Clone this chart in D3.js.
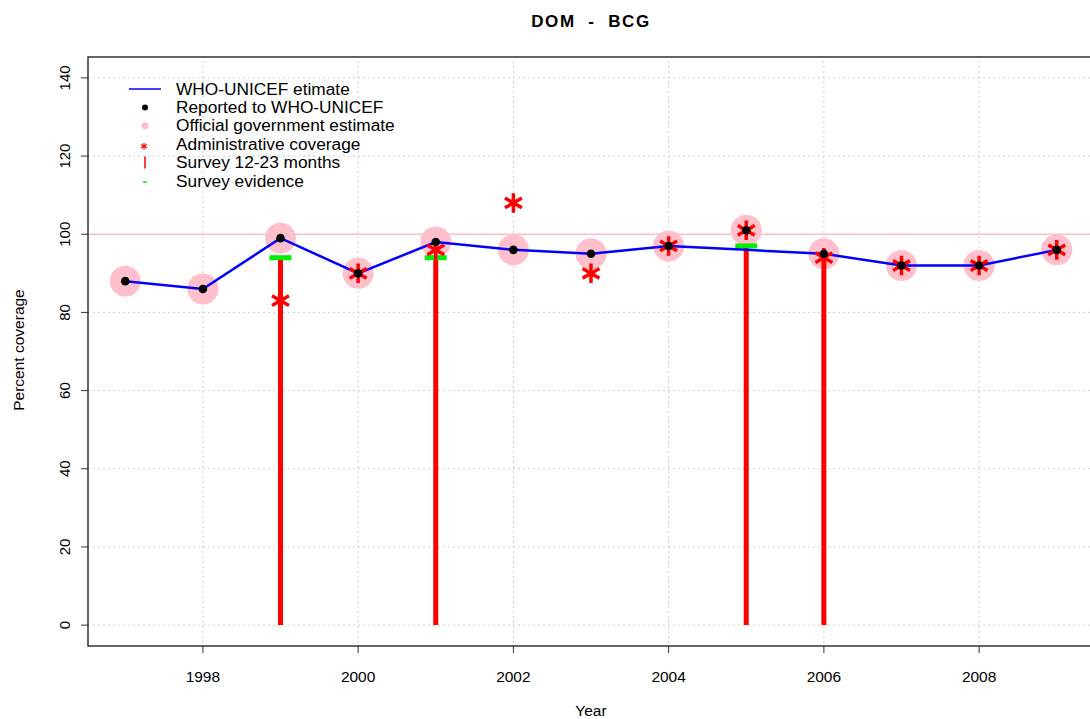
<!DOCTYPE html>
<html><head><meta charset="utf-8">
<script src="https://cdn.jsdelivr.net/npm/d3@7"></script>
<style>body{margin:0;background:#fff}svg{display:block}text{font-family:"Liberation Sans",Arial,sans-serif}</style>
</head><body><svg id="c" width="1090" height="719"></svg>
<script>
const years = [1997,1998,1999,2000,2001,2002,2003,2004,2005,2006,2007,2008,2009];
const wuenic = [88,86,99,90,98,96,95,97,96,95,92,92,96];
const reported = [88,86,99,90,98,96,95,97,101,95,92,92,96];
const official = [88,86,99,90,98,96,95,97,101,95,92,92,96];
const admin = [null,null,83,90,96,108,90,97,101,94,92,92,96];
const surveyYears = [1999,2001,2005,2006];
const surveyValues = [94,94,97,95];
const evidenceYears = [1999,2001,2005];
const evidenceValues = [94,94,97];
const yTicks = [0,20,40,60,80,100,120,140];
const xTicks = [1998,2000,2002,2004,2006,2008];
const legendLabels = ["WHO-UNICEF etimate","Reported to WHO-UNICEF","Official government estimate","Administrative coverage","Survey 12-23 months","Survey evidence"];

const svg = d3.select("#c");
const x = d3.scaleLinear().domain([1996.52, 2009.48]).range([88, 1094]);
const y = d3.scaleLinear().domain([-5.6, 145.6]).range([647, 56]);

// grid
const g = svg.append("g");
g.selectAll(".gy").data(yTicks).join("line").attr("x1",88).attr("x2",1094)
 .attr("y1",d=>y(d)).attr("y2",d=>y(d)).attr("stroke","#cfcfcf").attr("stroke-width",1).attr("stroke-dasharray","2,3");
g.selectAll(".gx").data(xTicks).join("line").attr("y1",56).attr("y2",647)
 .attr("x1",d=>x(d)).attr("x2",d=>x(d)).attr("stroke","#cfcfcf").attr("stroke-width",1).attr("stroke-dasharray","2,3");
g.append("line").attr("x1",88).attr("x2",1094).attr("y1",y(100)).attr("y2",y(100)).attr("stroke","#ffc0cb").attr("stroke-width",1.5);

// pink circles
const off = years.map((yr,i)=>({yr,v:official[i]}));
svg.append("g").selectAll("circle").data(off).join("circle")
 .attr("cx",d=>x(d.yr)).attr("cy",d=>y(d.v)).attr("r",15.5).attr("fill","#ffc0cb");

// surveys
const sv = surveyYears.map((yr,i)=>({yr,v:surveyValues[i]}));
svg.append("g").selectAll("line").data(sv).join("line")
 .attr("x1",d=>x(d.yr)).attr("x2",d=>x(d.yr)).attr("y1",y(0)).attr("y2",d=>y(d.v))
 .attr("stroke","#ff0000").attr("stroke-width",5);
const ev = evidenceYears.map((yr,i)=>({yr,v:evidenceValues[i]}));
svg.append("g").selectAll("line").data(ev).join("line")
 .attr("x1",d=>x(d.yr)-11).attr("x2",d=>x(d.yr)+11).attr("y1",d=>y(d.v)).attr("y2",d=>y(d.v))
 .attr("stroke","#00ee00").attr("stroke-width",5);

// blue line
const wd = years.map((yr,i)=>({yr,v:wuenic[i]}));
svg.append("path").datum(wd).attr("fill","none").attr("stroke","#0000ff").attr("stroke-width",2.5)
 .attr("d",d3.line().x(d=>x(d.yr)).y(d=>y(d.v)));

// admin stars
const ad = years.map((yr,i)=>({yr,v:admin[i]})).filter(d=>d.v!=null);
const star = d3.symbol().type(d3.symbolAsterisk).size(270);
svg.append("g").selectAll("path").data(ad).join("path")
 .attr("transform",d=>`translate(${x(d.yr)},${y(d.v)})`).attr("d",star)
 .attr("fill","none").attr("stroke","#ff0000").attr("stroke-width",3.5);

// black dots
const rp = years.map((yr,i)=>({yr,v:reported[i]}));
svg.append("g").selectAll("circle").data(rp).join("circle")
 .attr("cx",d=>x(d.yr)).attr("cy",d=>y(d.v)).attr("r",4.3).attr("fill","#000");

// frame
svg.append("rect").attr("x",88).attr("y",57).attr("width",1010).attr("height",589)
 .attr("fill","none").attr("stroke","#333").attr("stroke-width",1.5);

// axes
const ax = svg.append("g");
ax.selectAll(".ty").data(yTicks).join("line").attr("x1",81).attr("x2",88).attr("y1",d=>y(d)).attr("y2",d=>y(d)).attr("stroke","#333");
ax.selectAll(".ly").data(yTicks).join("text").attr("transform",d=>`translate(70,${y(d)}) rotate(-90)`)
 .attr("text-anchor","middle").attr("font-size",15).attr("fill","#000").text(d=>d);
ax.selectAll(".tx").data(xTicks).join("line").attr("y1",646).attr("y2",653).attr("x1",d=>x(d)).attr("x2",d=>x(d)).attr("stroke","#333");
ax.selectAll(".lx").data(xTicks).join("text").attr("x",d=>x(d)).attr("y",682)
 .attr("text-anchor","middle").attr("font-size",15.5).attr("fill","#000").text(d=>d);
svg.append("text").attr("x",591).attr("y",716).attr("text-anchor","middle").attr("font-size",15.5).text("Year");
svg.append("text").attr("transform","translate(24,350) rotate(-90)").attr("text-anchor","middle").attr("font-size",15.5).text("Percent coverage");
svg.append("text").attr("x",591).attr("y",27).attr("text-anchor","middle").attr("font-size",17).attr("font-weight","bold")
 .attr("letter-spacing","1.6").style("white-space","pre").text("DOM  -  BCG");

// legend
const lg = svg.append("g");
const ly = i=>89+i*18.4;
lg.append("line").attr("x1",129).attr("x2",161).attr("y1",ly(0)).attr("y2",ly(0)).attr("stroke","#0000ff").attr("stroke-width",1.5);
lg.append("circle").attr("cx",145).attr("cy",ly(1)).attr("r",3).attr("fill","#000");
lg.append("circle").attr("cx",145).attr("cy",ly(2)).attr("r",3.5).attr("fill","#ffc0cb");
lg.append("path").attr("transform",`translate(144,${ly(3)+2})`).attr("d",d3.symbol().type(d3.symbolAsterisk).size(30)).attr("fill","none").attr("stroke","#ff0000").attr("stroke-width",1.3);
lg.append("line").attr("x1",145).attr("x2",145).attr("y1",ly(4)-6).attr("y2",ly(4)+6).attr("stroke","#ff0000").attr("stroke-width",1.5);
lg.append("line").attr("x1",143).attr("x2",147).attr("y1",ly(5)+1).attr("y2",ly(5)+1).attr("stroke","#00ee00").attr("stroke-width",1.5);
lg.selectAll("text").data(legendLabels).join("text").attr("x",176).attr("y",(d,i)=>ly(i)+5.5)
 .attr("font-size",17.3).attr("fill","#000").text(d=>d);
</script></body></html>
